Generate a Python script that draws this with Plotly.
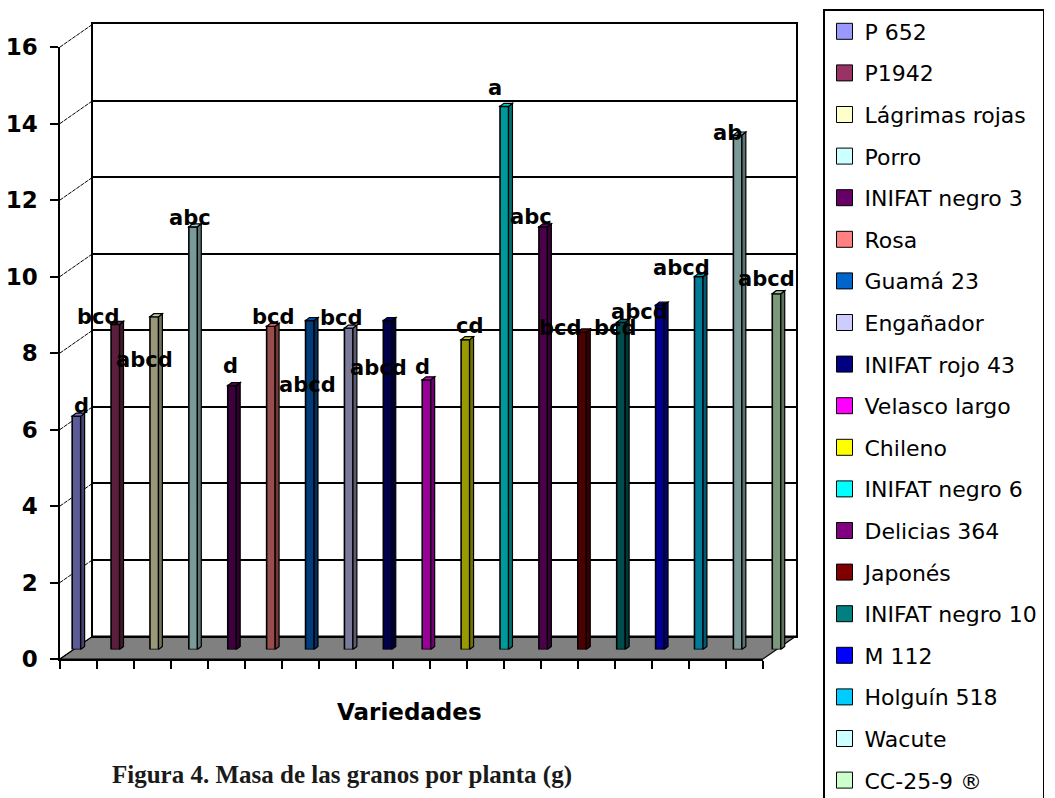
import plotly.graph_objects as go

# ---- data -------------------------------------------------------------
variedades = ["P 652", "P1942", "Lágrimas rojas", "Porro", "INIFAT negro 3",
              "Rosa", "Guamá 23", "Engañador", "INIFAT rojo 43", "Velasco largo",
              "Chileno", "INIFAT negro 6", "Delicias 364", "Japonés",
              "INIFAT negro 10", "M 112", "Holguín 518", "Wacute", "CC-25-9 ®"]
masa = [6.1, 8.5, 8.7, 11.05, 6.9, 8.45, 8.6, 8.4, 8.6, 7.05,
        8.1, 14.2, 11.05, 8.3, 8.55, 9.0, 9.75, 13.45, 9.3]
letras = ["d", "bcd", "abcd", "abc", "d", "bcd", "abcd", "bcd", "abcd", "d",
          "cd", "a", "abc", "bcd", "bcd", "abcd", "abcd", "ab", "abcd"]
colores = ["#9999FF", "#993366", "#FFFFCC", "#CCFFFF", "#660066", "#FF8080",
           "#0066CC", "#CCCCFF", "#000080", "#FF00FF", "#FFFF00", "#00FFFF",
           "#800080", "#800000", "#008080", "#0000FF", "#00CCFF", "#CCFFFF",
           "#CCFFCC"]
y_ticks = [0, 2, 4, 6, 8, 10, 12, 14, 16]

# label offsets (pixels) relative to each bar top
label_dx = [5, -17, -10, -3, -2, 3, -2, -7, -9, -4, 4, -9, -12, -22, -5, -20, -17, -10, -10]
label_dy = [10, 7, -43, 9, 20, 9, -64, 10, -47, 13, 14, 18, 10, 4, -6, -7, 9, 2, 15]

# ---- geometry (pixels) ------------------------------------------------
W, H = 1055, 798
FX0, FX1 = 60, 763          # front plane, horizontal extent
FY0, FY16 = 659, 47         # front plane, y of value 0 and 16
DX, DY = 33, -23            # depth offset of the back wall
BX0, BX1 = 57, 796          # plane the columns stand in
BY0 = 649.5
PX_PER_UNIT = (FY0 - FY16) / 16.0
BY16 = BY0 - 16 * PX_PER_UNIT


def px(x):
    return x / W


def py(y):
    return 1 - y / H


def shade(hex_color, k):
    h = hex_color.lstrip("#")
    r, g, b = (int(h[i:i + 2], 16) for i in (0, 2, 4))
    return "rgb({},{},{})".format(int(r * k), int(g * k), int(b * k))


front_cols = [shade(c, 0.6) for c in colores]
top_cols = [shade(c, 0.8) for c in colores]
side_cols = [shade(c, 0.45) for c in colores]

fig = go.Figure()

# empty traces so the wall and front-axis subplots get drawn
fig.add_trace(go.Scatter(x=[None], y=[None], xaxis="x", yaxis="y",
                         showlegend=False, hoverinfo="skip"))
fig.add_trace(go.Scatter(x=[None], y=[None], xaxis="x2", yaxis="y2",
                         showlegend=False, hoverinfo="skip"))

# columns
fig.add_trace(go.Bar(
    x=list(range(len(masa))), y=masa, xaxis="x3", yaxis="y3", width=0.22,
    marker=dict(color=front_cols, line=dict(color="black", width=1.6)),
    showlegend=False, hoverinfo="skip"))

# legend entries
for name, c in zip(variedades, colores):
    fig.add_trace(go.Scatter(
        x=[None], y=[None], xaxis="x3", yaxis="y3", mode="markers", name=name,
        legendgroup=name,
        marker=dict(symbol="square", size=16, color=c,
                    line=dict(color="black", width=1))))

shapes = []
# floor
shapes.append(dict(
    type="path", xref="paper", yref="paper", layer="below",
    path="M{},{} L{},{} L{},{} L{},{} Z".format(
        px(FX0), py(FY0), px(FX1), py(FY0),
        px(FX1 + DX), py(FY0 + DY), px(FX0 + DX), py(FY0 + DY)),
    fillcolor="#808080", line=dict(color="black", width=1.2)))
# side wall grid lines
for v in y_ticks:
    yf = FY0 + (FY16 - FY0) * v / 16.0
    shapes.append(dict(
        type="line", xref="paper", yref="paper", layer="below",
        x0=px(FX0), y0=py(yf), x1=px(FX0 + DX), y1=py(yf + DY),
        line=dict(color="black", width=1, dash="4px,1px")))

# 3-D caps and side faces of the columns
ddx, ddy = 0.10, 0.08
hw = 0.11
for i, v in enumerate(masa):
    xl, xr = i - hw, i + hw
    shapes.append(dict(
        type="path", xref="x3", yref="y3", layer="above",
        path="M{},{} L{},{} L{},{} L{},{} Z".format(
            xr, 0, xr, v, xr + ddx, v + ddy, xr + ddx, ddy),
        fillcolor=side_cols[i], line=dict(color="black", width=1.2)))
    shapes.append(dict(
        type="path", xref="x3", yref="y3", layer="above",
        path="M{},{} L{},{} L{},{} L{},{} Z".format(
            xl, v, xr, v, xr + ddx, v + ddy, xl + ddx, v + ddy),
        fillcolor=top_cols[i], line=dict(color="black", width=1.2)))

annotations = []
for i, (v, t) in enumerate(zip(masa, letras)):
    annotations.append(dict(
        x=i, y=v, xref="x3", yref="y3", text=t, showarrow=False,
        xshift=label_dx[i], yshift=label_dy[i],
        font=dict(family="DejaVu Sans", size=21, color="black", weight="bold")))

annotations.append(dict(
    x=px(409), y=py(712), xref="paper", yref="paper", text="Variedades",
    showarrow=False, xanchor="center", yanchor="middle",
    font=dict(family="DejaVu Sans", size=23, color="black", weight="bold")))
annotations.append(dict(
    x=px(342), y=py(775), xref="paper", yref="paper",
    text="Figura 4. Masa de las granos por planta (g)",
    showarrow=False, xanchor="center", yanchor="middle",
    font=dict(family="Liberation Serif", size=25, color="#1a1a1a", weight="bold")))

fig.update_layout(
    width=W, height=H, margin=dict(l=0, r=0, t=0, b=0, autoexpand=False),
    paper_bgcolor="white", plot_bgcolor="rgba(0,0,0,0)",
    shapes=shapes, annotations=annotations,
    # back wall
    xaxis=dict(domain=[px(FX0 + DX), px(FX1 + DX)], range=[0, 1],
               showgrid=False, zeroline=False, showticklabels=False,
               showline=True, mirror=True, linecolor="black", linewidth=1.5,
               ticks="", anchor="y", automargin=False),
    yaxis=dict(domain=[py(FY0 + DY), py(FY16 + DY)], range=[0, 16],
               tickvals=y_ticks, showgrid=True, gridcolor="black", gridwidth=1.5,
               zeroline=False, showticklabels=False, showline=True, mirror=True,
               linecolor="black", linewidth=1.5, ticks="", anchor="x",
               automargin=False),
    # front axes
    xaxis2=dict(domain=[px(FX0), px(FX1)], range=[0, 19],
                tickvals=list(range(20)), ticks="outside", ticklen=8,
                tickwidth=1.5, tickcolor="black", showticklabels=False,
                showgrid=False, zeroline=False, showline=True,
                linecolor="black", linewidth=1.5, anchor="y2", automargin=False),
    yaxis2=dict(domain=[py(FY0), py(FY16)], range=[0, 16], tickvals=y_ticks,
                ticks="outside", ticklen=8, tickwidth=1.5, tickcolor="black",
                ticklabelstandoff=8,
                tickfont=dict(family="DejaVu Sans", size=23, color="black",
                              weight="bold"),
                showgrid=False, zeroline=False, showline=True,
                linecolor="black", linewidth=1.5, anchor="x2", automargin=False),
    # plane of the columns
    xaxis3=dict(domain=[px(BX0), px(BX1)], range=[-0.5, 18.5], visible=False,
                anchor="y3", automargin=False),
    yaxis3=dict(domain=[py(BY0), py(BY16)], range=[0, 16], visible=False,
                anchor="x3", automargin=False),
    legend=dict(x=px(823), y=py(9), xanchor="left", yanchor="top",
                bgcolor="white", bordercolor="black", borderwidth=1.5,
                tracegroupgap=10, entrywidth=230, entrywidthmode="pixels",
                font=dict(family="DejaVu Sans", size=22, color="black")),
)

fig.write_html("out.html")
